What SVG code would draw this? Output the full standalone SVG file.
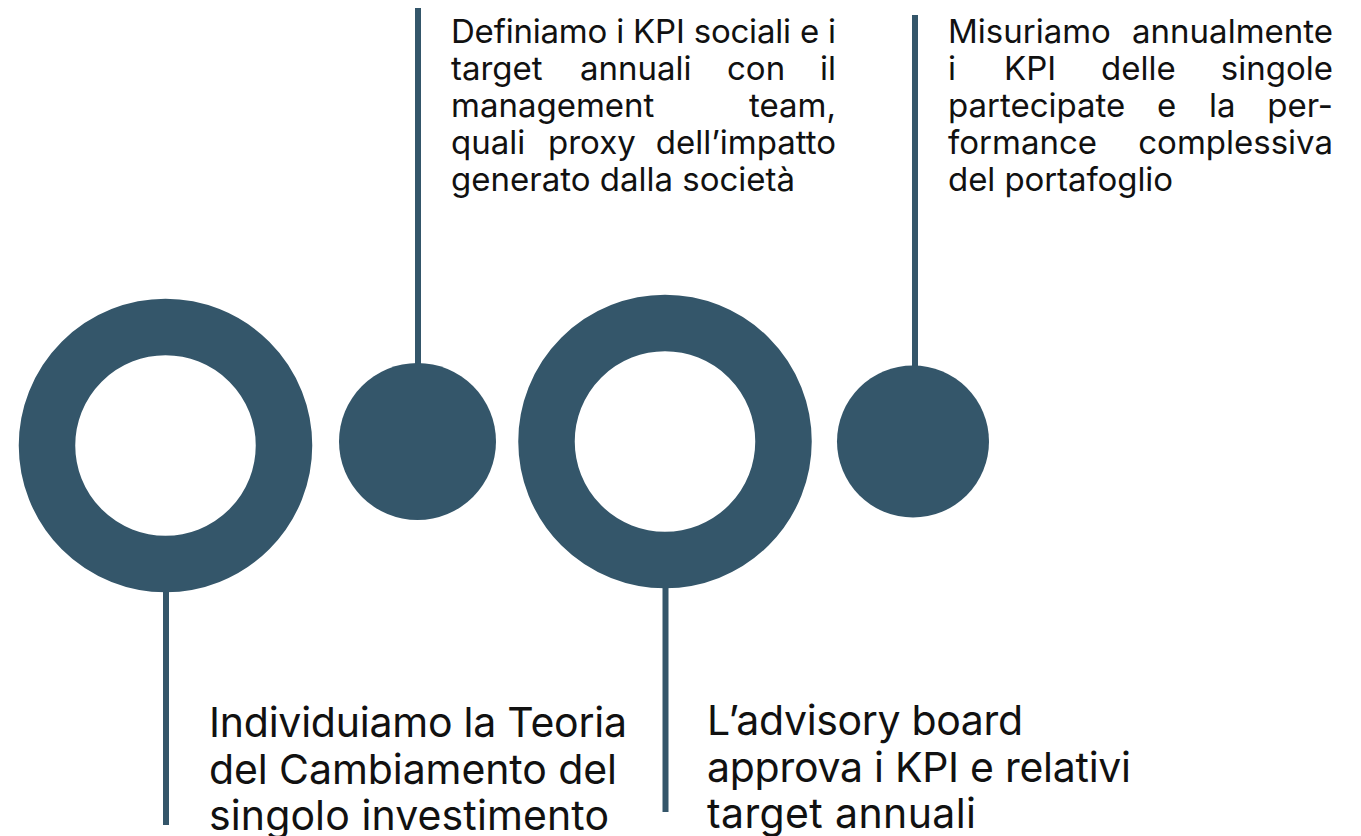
<svg xmlns="http://www.w3.org/2000/svg" width="1361" height="836" viewBox="0 0 1361 836">
<style>
.t{font-family:Inter,"Liberation Sans",sans-serif;font-size:33px;fill:#111}
.b{font-family:Inter,"Liberation Sans",sans-serif;font-size:41px;fill:#111}
.e{text-anchor:end}
.conn line{stroke:#34566a;stroke-width:6}
.ring{fill:none;stroke:#34566a;stroke-width:56.5}
.dot{fill:#34566a}
</style>
<rect width="1361" height="836" fill="#fff"/>
<g id="connectors" class="conn">
<line x1="166" y1="585" x2="166" y2="825"/>
<line x1="418" y1="8" x2="418" y2="370"/>
<line x1="665.5" y1="580" x2="665.5" y2="812"/>
<line x1="915" y1="15" x2="915" y2="372"/>
</g>
<g id="node1"><circle class="ring" cx="165.5" cy="445.5" r="118.5"/>
<text class="b" x="209" y="737" textLength="418">Individuiamo la Teoria</text>
<text class="b" x="209" y="784" textLength="408">del Cambiamento del</text>
<text class="b" x="209" y="830" textLength="400">singolo investimento</text>
</g>
<g id="node2"><circle class="dot" cx="417.5" cy="441.5" r="78.5"/>
<text class="t" x="451" y="43" textLength="385">Definiamo i KPI sociali e i</text>
<text class="t" x="451" y="80">target</text><text class="t" x="580" y="80">annuali</text><text class="t" x="727" y="80">con</text><text class="t e" x="836" y="80">il</text>
<text class="t" x="451" y="117">management</text><text class="t e" x="836" y="117">team,</text>
<text class="t" x="451" y="154">quali</text><text class="t" x="548" y="154">proxy</text><text class="t e" x="836" y="154">dell’impatto</text>
<text class="t" x="451" y="191" textLength="344">generato dalla società</text>
</g>
<g id="node3"><circle class="ring" cx="665" cy="441.5" r="118.5"/>
<text class="b" x="707" y="735" textLength="316">L’advisory board</text>
<text class="b" x="707" y="782" textLength="424">approva i KPI e relativi</text>
<text class="b" x="707" y="828" textLength="269">target annuali</text>
</g>
<g id="node4"><circle class="dot" cx="913" cy="441.5" r="76"/>
<text class="t" x="948" y="43">Misuriamo</text><text class="t e" x="1333" y="43">annualmente</text>
<text class="t" x="948" y="80">i</text><text class="t" x="1004" y="80">KPI</text><text class="t" x="1101" y="80">delle</text><text class="t e" x="1333" y="80">singole</text>
<text class="t" x="948" y="117">partecipate</text><text class="t" x="1157" y="117">e</text><text class="t" x="1209" y="117">la</text><text class="t e" x="1333" y="117">per-</text>
<text class="t" x="948" y="154">formance</text><text class="t e" x="1333" y="154">complessiva</text>
<text class="t" x="948" y="191" textLength="225">del portafoglio</text>
</g>
</svg>
